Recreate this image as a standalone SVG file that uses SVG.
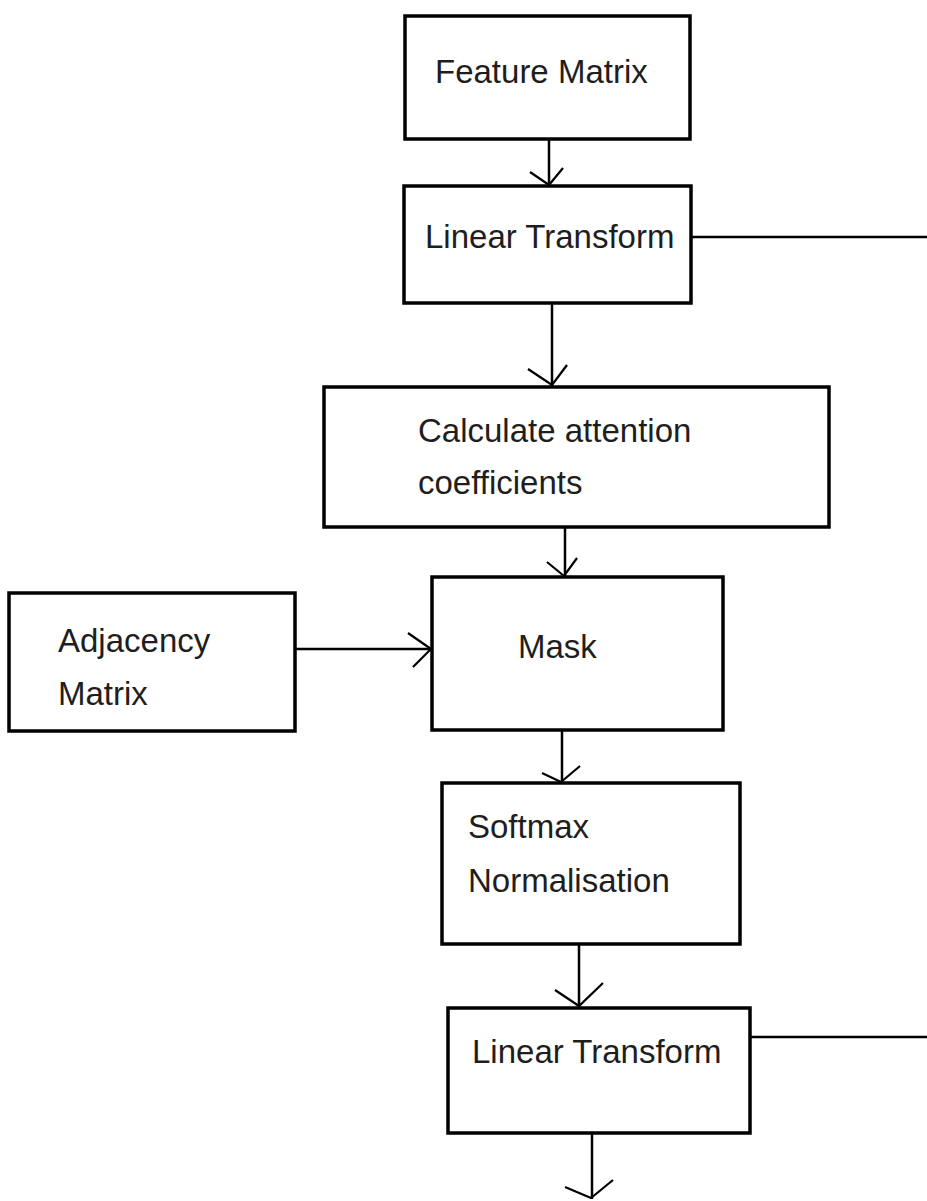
<svg xmlns="http://www.w3.org/2000/svg" width="927" height="1201" viewBox="0 0 927 1201">
  <style>
    .box { fill: #ffffff; stroke: #000000; stroke-width: 3.5; }
    .lbl { font-family: "Liberation Sans", Arial, sans-serif; font-size: 33px; fill: #1e1e1e; }
    .edge { fill: none; stroke: #000000; stroke-width: 2.5; }
    .head { fill: none; stroke: #000000; stroke-width: 2.2; }
  </style>
  <rect width="927" height="1201" fill="#ffffff"/>

  <g id="connectors">
    <!-- Feature Matrix -> Linear Transform -->
    <line class="edge" x1="549" y1="139" x2="549" y2="186"/>
    <polyline class="head" points="530,172 549,185 563,168"/>
    <!-- Linear Transform -> right edge -->
    <line class="edge" x1="691" y1="237" x2="927" y2="237"/>
    <!-- Linear Transform -> Calculate -->
    <line class="edge" x1="552" y1="303" x2="552" y2="387"/>
    <polyline class="head" points="528,369 552,385 567,365"/>
    <!-- Calculate -> Mask -->
    <line class="edge" x1="565" y1="527" x2="565" y2="577"/>
    <polyline class="head" points="547,562 564,576 577,558"/>
    <!-- Adjacency -> Mask -->
    <line class="edge" x1="295" y1="649" x2="432" y2="649"/>
    <polyline class="head" points="408,633 431,649 413,667"/>
    <!-- Mask -> Softmax -->
    <line class="edge" x1="562" y1="730" x2="562" y2="783"/>
    <polyline class="head" points="542,773 561,782 580,766"/>
    <!-- Softmax -> Linear Transform 2 -->
    <line class="edge" x1="579" y1="944" x2="579" y2="1008"/>
    <polyline class="head" points="555,990 579,1006 603,983"/>
    <!-- Linear Transform 2 -> right edge -->
    <line class="edge" x1="750" y1="1037" x2="927" y2="1037"/>
    <!-- Linear Transform 2 -> down -->
    <line class="edge" x1="592" y1="1133" x2="592" y2="1199"/>
    <polyline class="head" points="565,1187 591,1198 613,1180"/>
  </g>

  <g id="feature-matrix">
    <rect class="box" x="405" y="16" width="285" height="123"/>
    <text class="lbl" x="435" y="83">Feature Matrix</text>
  </g>

  <g id="linear-transform-1">
    <rect class="box" x="404" y="186" width="287" height="117"/>
    <text class="lbl" x="425" y="248">Linear Transform</text>
  </g>

  <g id="calculate-attention">
    <rect class="box" x="324" y="387" width="505" height="140"/>
    <text class="lbl" x="418" y="442">Calculate attention</text>
    <text class="lbl" x="418" y="494">coefficients</text>
  </g>

  <g id="adjacency-matrix">
    <rect class="box" x="9" y="593" width="286" height="138"/>
    <text class="lbl" x="58" y="652">Adjacency</text>
    <text class="lbl" x="58" y="705">Matrix</text>
  </g>

  <g id="mask">
    <rect class="box" x="432" y="577" width="291" height="153"/>
    <text class="lbl" x="518" y="658">Mask</text>
  </g>

  <g id="softmax">
    <rect class="box" x="442" y="783" width="298" height="161"/>
    <text class="lbl" x="468" y="838">Softmax</text>
    <text class="lbl" x="468" y="892">Normalisation</text>
  </g>

  <g id="linear-transform-2">
    <rect class="box" x="448" y="1008" width="302" height="125"/>
    <text class="lbl" x="472" y="1063">Linear Transform</text>
  </g>
</svg>
